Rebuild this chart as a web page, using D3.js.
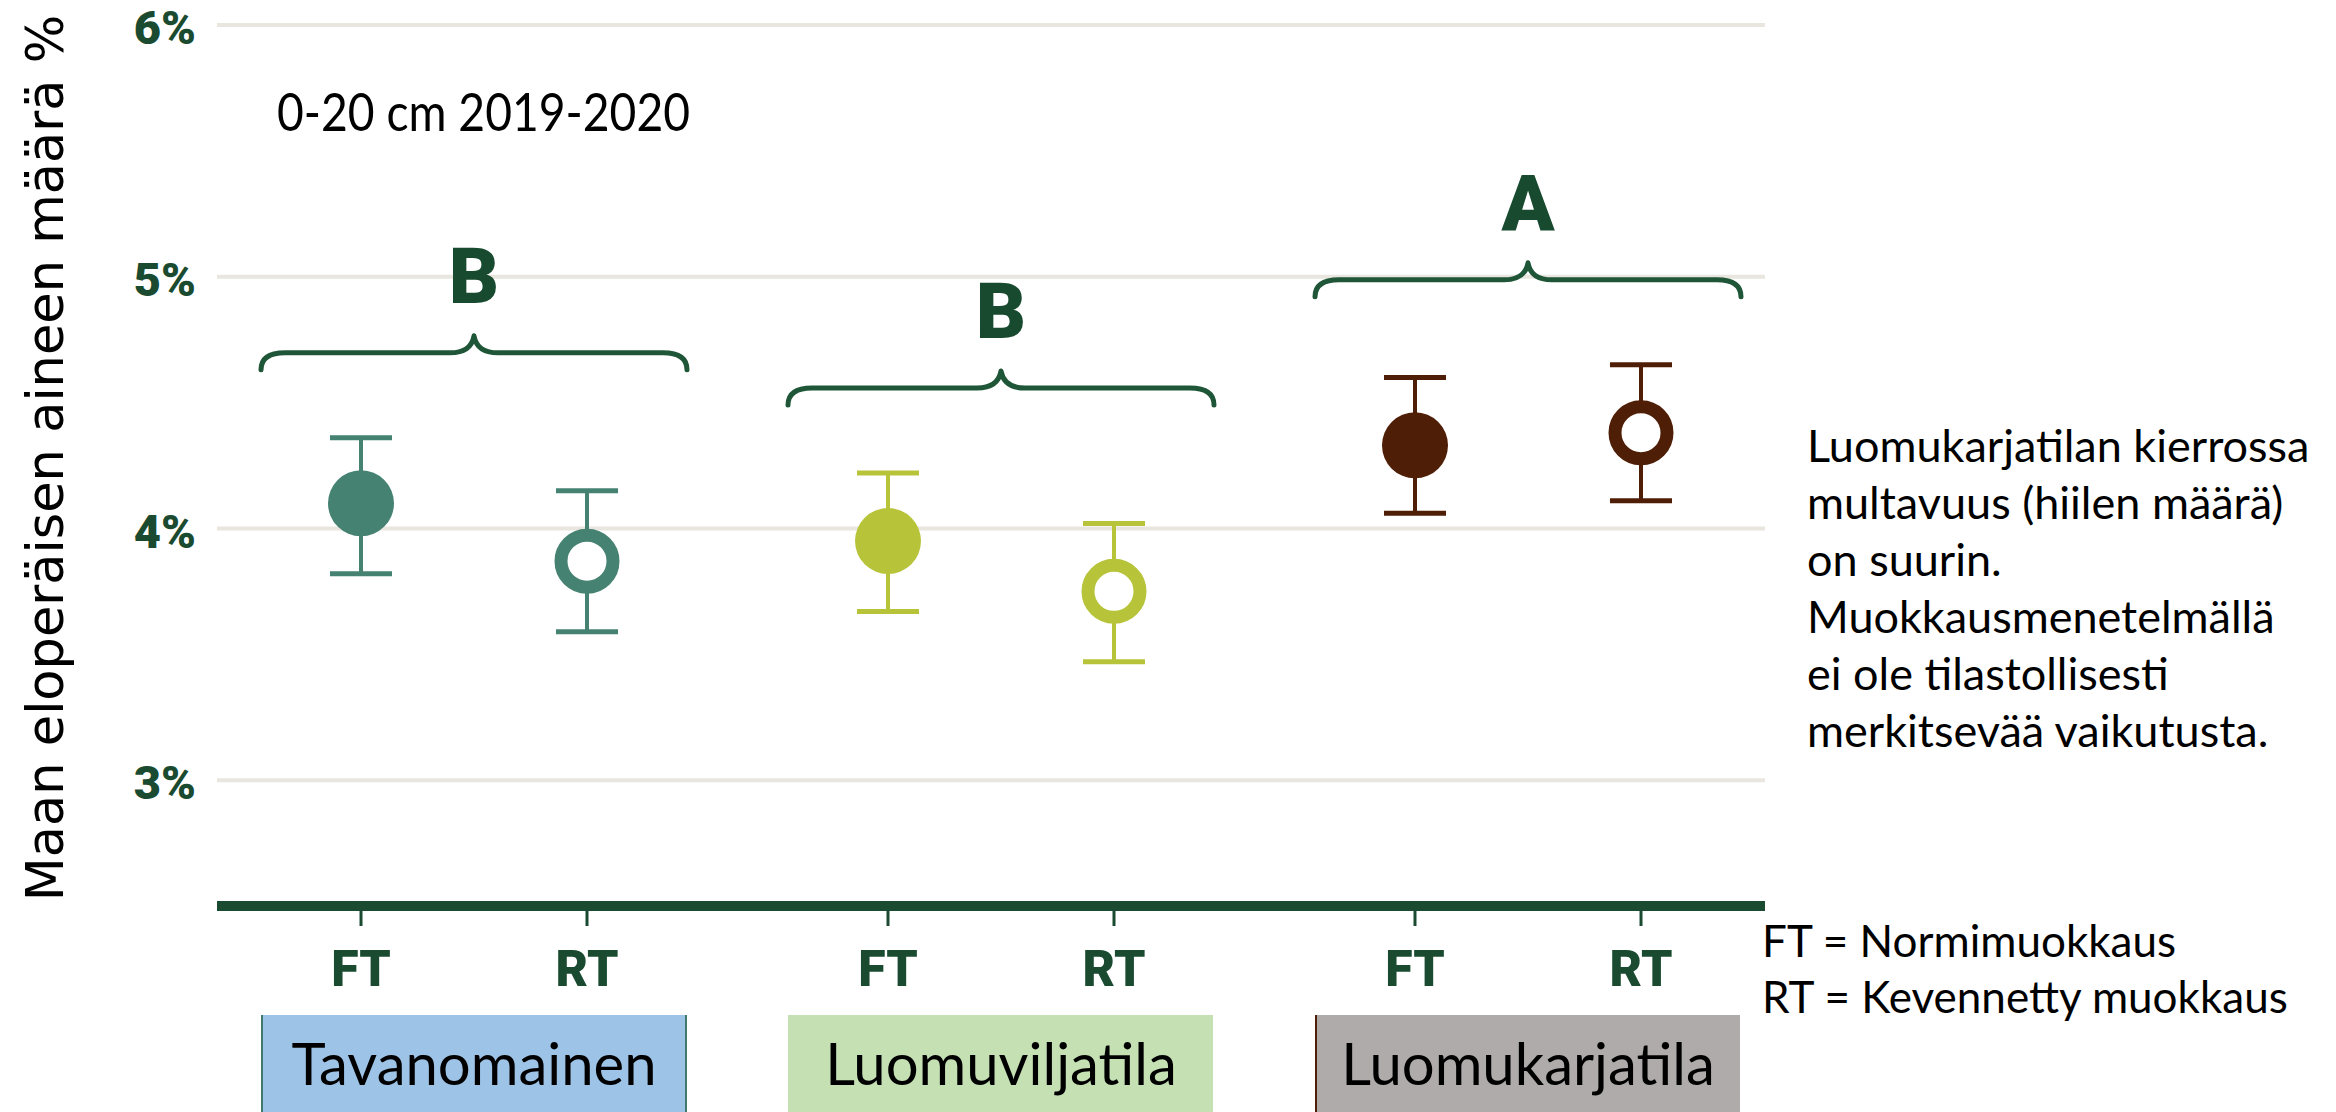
<!DOCTYPE html>
<html>
<head>
<meta charset="utf-8">
<script src="https://cdn.jsdelivr.net/npm/d3@7"></script>
<style>
  html, body { margin: 0; padding: 0; background: #fff; }
  svg { display: block; }
</style>
</head>
<body>
<svg id="chart" width="2336" height="1112"></svg>
<script>
// Soil organic matter (0-20 cm, 2019-2020) by farm type and tillage
const groups = ["Tavanomainen", "Luomuviljatila", "Luomukarjatila"];
const tillage = ["FT", "RT"];
const meanFT = [4.10, 3.95, 4.33];
const lowFT  = [3.82, 3.67, 4.06];
const highFT = [4.36, 4.22, 4.60];
const meanRT = [3.87, 3.75, 4.38];
const lowRT  = [3.59, 3.47, 4.11];
const highRT = [4.15, 4.02, 4.65];
const letters = ["B", "B", "A"];
const yTicks = [3, 4, 5, 6];
const yDomain = [2.5, 6];
const yTitle = "Maan eloperäisen aineen määrä %";
const depthLabel = "0-20 cm 2019-2020";
const noteLines = [
  "Luomukarjatilan kierrossa",
  "multavuus (hiilen määrä)",
  "on suurin.",
  "Muokkausmenetelmällä",
  "ei ole tilastollisesti",
  "merkitsevää vaikutusta."
];
const legendLines = ["FT = Normimuokkaus", "RT = Kevennetty muokkaus"];

const groupColor = ["#468272", "#b7c43a", "#4f1e06"];
const boxFill = ["#9dc3e6", "#c5e0b3", "#afabab"];
const boxEdge = ["#3f7a6c", "#c5e0b3", "#4f1e06"];
const darkGreen = "#1a4b31";

const points = [];
groups.forEach((g, i) => {
  points.push({ group: g, gi: i, till: "FT", mean: meanFT[i], low: lowFT[i], high: highFT[i] });
  points.push({ group: g, gi: i, till: "RT", mean: meanRT[i], low: lowRT[i], high: highRT[i] });
});

const svg = d3.select("#chart");
const plotLeft = 217, plotRight = 1765;

const y = d3.scaleLinear().domain(yDomain).range([906, 25]);
const xGroup = d3.scaleBand().domain(groups).range([210.5, 1791.5]).padding(0);
const xInner = d3.scalePoint().domain(tillage).range([-113, 113]);
const gx = g => xGroup(g) + xGroup.bandwidth() / 2;
const px = d => gx(d.group) + xInner(d.till);
const halfSpan = 213;

// gridlines
svg.append("g")
  .selectAll("line")
  .data(yTicks)
  .join("line")
  .attr("x1", plotLeft).attr("x2", plotRight)
  .attr("y1", d => y(d)).attr("y2", d => y(d))
  .attr("stroke", "#e8e6df").attr("stroke-width", 4);

// y axis labels
const yAxis = svg.append("g")
  .attr("transform", "translate(196,0)")
  .call(d3.axisLeft(y).tickValues(yTicks).tickSize(0).tickPadding(0).tickFormat(d => d + "%"));
yAxis.select(".domain").remove();
yAxis.selectAll("text")
  .attr("font-family", "Roboto, 'Liberation Sans', sans-serif")
  .attr("font-weight", 900)
  .attr("font-size", 47)
  .attr("fill", darkGreen)
  .attr("dy", "0.4em");

// y title
svg.append("text")
  .attr("transform", `translate(63,${458}) rotate(-90)`)
  .attr("text-anchor", "middle")
  .attr("font-family", "'DejaVu Sans', Verdana, sans-serif")
  .attr("font-size", 51)
  .attr("fill", "#000")
  .text(yTitle);

// depth / years label
svg.append("text")
  .attr("x", 277).attr("y", 131)
  .attr("font-family", "Lato, 'Open Sans', sans-serif")
  .attr("font-size", 52)
  .attr("textLength", 413)
  .attr("lengthAdjust", "spacingAndGlyphs")
  .attr("fill", "#000")
  .text(depthLabel);

// bottom axis line and ticks
svg.append("line")
  .attr("x1", plotLeft).attr("x2", plotRight)
  .attr("y1", y(yDomain[0])).attr("y2", y(yDomain[0]))
  .attr("stroke", darkGreen).attr("stroke-width", 10);

svg.append("g")
  .selectAll("line")
  .data(points)
  .join("line")
  .attr("x1", px).attr("x2", px)
  .attr("y1", y(yDomain[0]) + 4).attr("y2", y(yDomain[0]) + 20)
  .attr("stroke", darkGreen).attr("stroke-width", 3);

svg.append("g")
  .selectAll("text")
  .data(points)
  .join("text")
  .attr("x", px).attr("y", 986)
  .attr("text-anchor", "middle")
  .attr("font-family", "Roboto, 'Liberation Sans', sans-serif")
  .attr("font-weight", 900)
  .attr("font-size", 50)
  .attr("fill", darkGreen)
  .text(d => d.till);

// group boxes
const boxes = svg.append("g")
  .selectAll("g")
  .data(groups)
  .join("g");
boxes.append("rect")
  .attr("x", g => gx(g) - halfSpan + 1).attr("y", 1015)
  .attr("width", halfSpan * 2 - 2).attr("height", 110)
  .attr("fill", (g, i) => boxFill[i]);
boxes.append("line")
  .attr("x1", g => gx(g) - halfSpan + 1).attr("x2", g => gx(g) - halfSpan + 1)
  .attr("y1", 1015).attr("y2", 1112)
  .attr("stroke", (g, i) => boxEdge[i]).attr("stroke-width", 2);
boxes.filter((g, i) => i === 0).append("line")
  .attr("x1", g => gx(g) + halfSpan - 1).attr("x2", g => gx(g) + halfSpan - 1)
  .attr("y1", 1015).attr("y2", 1112)
  .attr("stroke", boxEdge[0]).attr("stroke-width", 2);
boxes.append("text")
  .attr("x", gx).attr("y", 1085)
  .attr("text-anchor", "middle")
  .attr("font-family", "Lato, 'Open Sans', sans-serif")
  .attr("font-size", 58)
  .attr("fill", "#000")
  .text(g => g);

// significance braces and letters
function bracePath(xc, yh) {
  const xl = xc - halfSpan, xr = xc + halfSpan;
  return `M${xl},${yh + 17} Q${xl},${yh} ${xl + 24},${yh} L${xc - 24},${yh} Q${xc - 3},${yh} ${xc},${yh - 17}` +
         ` Q${xc + 3},${yh} ${xc + 24},${yh} L${xr - 24},${yh} Q${xr},${yh} ${xr},${yh + 17}`;
}
const braceY = groups.map((g, i) => y(Math.max(highFT[i], highRT[i])) - 85);
svg.append("g")
  .selectAll("path")
  .data(groups)
  .join("path")
  .attr("d", (g, i) => bracePath(gx(g), braceY[i]))
  .attr("fill", "none")
  .attr("stroke", "#1f5638")
  .attr("stroke-width", 5)
  .attr("stroke-linecap", "round")
  .attr("stroke-linejoin", "round");
svg.append("g")
  .selectAll("text")
  .data(groups)
  .join("text")
  .attr("x", gx).attr("y", (g, i) => braceY[i] - 50)
  .attr("text-anchor", "middle")
  .attr("font-family", "Roboto, 'Liberation Sans', sans-serif")
  .attr("font-weight", 900)
  .attr("font-size", 78)
  .attr("fill", "#174a2f")
  .text((g, i) => letters[i]);

// error bars
const bars = svg.append("g")
  .selectAll("g")
  .data(points)
  .join("g")
  .attr("stroke", d => groupColor[d.gi]);
bars.append("line")
  .attr("x1", px).attr("x2", px)
  .attr("y1", d => y(d.low)).attr("y2", d => y(d.high))
  .attr("stroke-width", 4);
bars.append("line")
  .attr("x1", d => px(d) - 31).attr("x2", d => px(d) + 31)
  .attr("y1", d => y(d.high)).attr("y2", d => y(d.high))
  .attr("stroke-width", 5);
bars.append("line")
  .attr("x1", d => px(d) - 31).attr("x2", d => px(d) + 31)
  .attr("y1", d => y(d.low)).attr("y2", d => y(d.low))
  .attr("stroke-width", 5);

// mean markers: filled for FT, hollow ring for RT
svg.append("g")
  .selectAll("circle")
  .data(points)
  .join("circle")
  .attr("cx", px).attr("cy", d => y(d.mean))
  .attr("r", d => d.till === "FT" ? 33 : 26)
  .attr("fill", d => d.till === "FT" ? groupColor[d.gi] : "#fff")
  .attr("stroke", d => d.till === "FT" ? "none" : groupColor[d.gi])
  .attr("stroke-width", 13);

// note text on the right
svg.append("g")
  .selectAll("text")
  .data(noteLines)
  .join("text")
  .attr("x", 1807).attr("y", (d, i) => 462 + i * 57)
  .attr("font-family", "Lato, 'Open Sans', sans-serif")
  .attr("font-size", 45)
  .attr("fill", "#000")
  .text(d => d);

// tillage legend
svg.append("g")
  .selectAll("text")
  .data(legendLines)
  .join("text")
  .attr("x", 1762).attr("y", (d, i) => 957 + i * 56)
  .attr("font-family", "Lato, 'Open Sans', sans-serif")
  .attr("font-size", 44)
  .attr("fill", "#000")
  .text(d => d);
</script>
</body>
</html>
